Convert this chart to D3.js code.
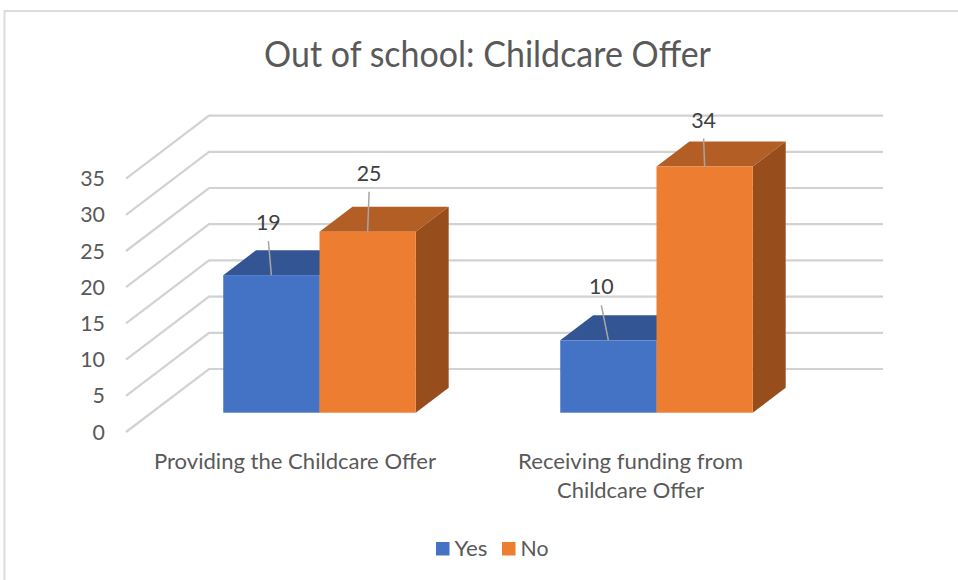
<!DOCTYPE html>
<html>
<head>
<meta charset="utf-8">
<script src="https://cdn.jsdelivr.net/npm/d3@7"></script>
<style>
  html, body { margin: 0; padding: 0; background: #fff; }
  svg { display: block; }
  text { font-family: Lato, "Open Sans", sans-serif; fill: #595959; }
</style>
</head>
<body>
<div id="chart"></div>
<script>
const categories = ["Providing the Childcare Offer", "Receiving funding from Childcare Offer"];
const seriesNames = ["Yes", "No"];
const yesValues = [19, 10];
const noValues = [25, 34];
const yTicks = [0, 5, 10, 15, 20, 25, 30, 35];

const width = 958;
const height = 580;

const svg = d3.select("#chart")
  .append("svg")
  .attr("width", width)
  .attr("height", height);

// outer chart border, only top and left are in the crop
svg.append("path")
  .attr("d", `M4.5,${height}V11H${width}`)
  .attr("fill", "none")
  .attr("stroke", "#dcdcdc")
  .attr("stroke-width", 2);

// fake 3d: value goes up, depth goes up and to the right
const y = d3.scaleLinear().domain([0, 35]).range([0, 253.4]);
const depthX = d3.scaleLinear().domain([0, 1]).range([126, 209]);
const depthY = d3.scaleLinear().domain([0, 1]).range([432, 369]);
const backRight = 883;

const barFront = 19.3 / 63;
const barBack = 44.3 / 63;

const x0 = d3.scaleBand().domain(categories).range([151, 825]);
const x1 = d3.scaleBand().domain(seriesNames).range([-96.25, 96.25]);

const colors = {
  Yes: { front: "#4472c4", top: "#335593", side: "#2a4a80" },
  No: { front: "#ed7d31", top: "#b35e24", side: "#984e1c" }
};

// walls
const grid = svg.append("g")
  .attr("fill", "none")
  .attr("stroke", "#d2d2d2")
  .attr("stroke-width", 2.2);

grid.selectAll("path")
  .data(yTicks)
  .enter()
  .append("path")
  .attr("d", d => {
    const h = y(d);
    return `M${depthX(0)},${depthY(0) - h}L${depthX(1)},${depthY(1) - h}H${backRight}`;
  });

// the text is squeezed to the measured widths, the font is wider than the original
const fit = (sel, w) => sel.attr("textLength", w).attr("lengthAdjust", "spacingAndGlyphs");
const digitWidth = 12.4;

svg.append("g")
  .selectAll("text")
  .data(yTicks)
  .enter()
  .append("text")
  .attr("x", 105)
  .attr("y", d => depthY(0) - y(d) + 7.5)
  .attr("text-anchor", "end")
  .attr("font-size", 22)
  .text(d => d)
  .each(function(d) { d3.select(this).call(fit, String(d).length * digitWidth); });

// bars
const bars = [];
categories.forEach((c, i) => {
  bars.push({ cat: c, series: "Yes", value: yesValues[i] });
  bars.push({ cat: c, series: "No", value: noValues[i] });
});

const baseY = depthY(barFront);
const dx = depthX(barBack) - depthX(barFront);
const dy = depthY(barFront) - depthY(barBack);
const center = d => x0(d.cat) + x0.bandwidth() / 2;
const left = d => center(d) + x1(d.series);
const topY = d => baseY - y(d.value);

const barG = svg.append("g")
  .selectAll("g")
  .data(bars)
  .enter()
  .append("g");

barG.append("path")
  .attr("fill", d => colors[d.series].top)
  .attr("d", d => `M${left(d)},${topY(d)}l${dx},${-dy}h${x1.bandwidth()}l${-dx},${dy}Z`);

barG.append("path")
  .attr("fill", d => colors[d.series].side)
  .attr("d", d => `M${left(d) + x1.bandwidth()},${topY(d)}l${dx},${-dy}V${baseY - dy}l${-dx},${dy}Z`);

barG.append("rect")
  .attr("x", d => left(d))
  .attr("y", d => topY(d))
  .attr("width", x1.bandwidth())
  .attr("height", d => y(d.value))
  .attr("fill", d => colors[d.series].front);

// data labels with leader lines, offsets from the front top edge centre
const leaderTop = [[-3, -34], [1.5, -40], [-7, -35], [-1, -28]];

const labels = svg.append("g");
bars.forEach((d, i) => {
  const cx = left(d) + x1.bandwidth() / 2;
  const t = topY(d);
  const [ox, oy] = leaderTop[i];
  labels.append("line")
    .attr("x1", cx + ox)
    .attr("y1", t + oy)
    .attr("x2", cx)
    .attr("y2", t)
    .attr("stroke", "#a6a6a6")
    .attr("stroke-width", 1.5);
  labels.append("text")
    .attr("x", cx + ox)
    .attr("y", t + oy - 11)
    .attr("text-anchor", "middle")
    .attr("font-size", 22)
    .style("fill", "#404040")
    .text(d.value)
    .call(fit, 2 * digitWidth);
});

// category labels
const catLines = [[categories[0]], ["Receiving funding from", "Childcare Offer"]];
const catWidths = [[282], [225, 147]];
const catCenter = [295, 630.5];

catLines.forEach((lines, i) => {
  lines.forEach((line, j) => {
    svg.append("text")
      .attr("x", catCenter[i])
      .attr("y", 469 + j * 29)
      .attr("text-anchor", "middle")
      .attr("font-size", 22)
      .text(line)
      .call(fit, catWidths[i][j]);
  });
});

// title
svg.append("text")
  .attr("x", 487.5)
  .attr("y", 67)
  .attr("text-anchor", "middle")
  .attr("font-size", 37)
  .text("Out of school: Childcare Offer")
  .call(fit, 447);

// legend
const legendX = { Yes: 436, No: 502 };
const legendW = { Yes: 33, No: 28 };
const legend = svg.append("g")
  .selectAll("g")
  .data(seriesNames)
  .enter()
  .append("g");

legend.append("rect")
  .attr("x", d => legendX[d])
  .attr("y", 542)
  .attr("width", 13.5)
  .attr("height", 13.5)
  .attr("fill", d => colors[d].front);

legend.append("text")
  .attr("x", d => legendX[d] + 18.5)
  .attr("y", 555.5)
  .attr("font-size", 22)
  .text(d => d)
  .each(function(d) { d3.select(this).call(fit, legendW[d]); });
</script>
</body>
</html>
